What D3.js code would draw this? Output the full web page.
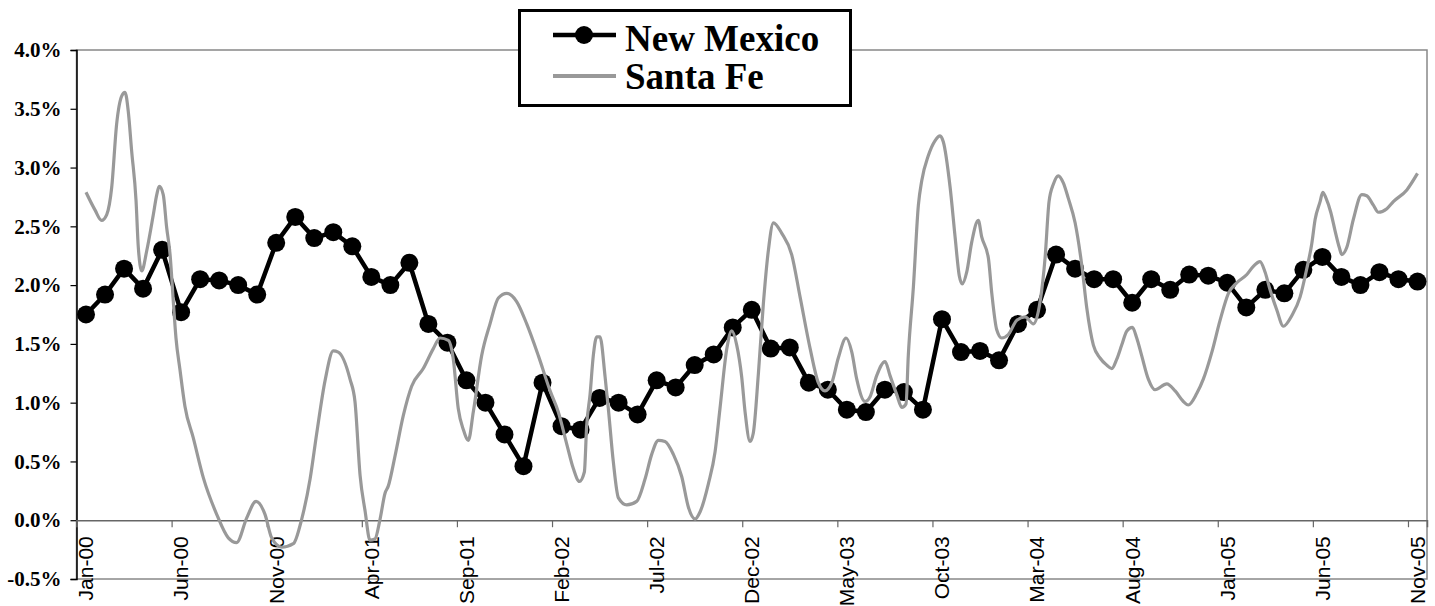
<!DOCTYPE html>
<html>
<head>
<meta charset="utf-8">
<script src="https://cdn.jsdelivr.net/npm/d3@7"></script>
<style>
  html, body { margin: 0; padding: 0; background: #fff; }
  svg { display: block; }
</style>
</head>
<body>
<svg id="chart" width="1435" height="606"></svg>
<script>
// ---------------- DATA ----------------
const months = [
  "Jan-00","Feb-00","Mar-00","Apr-00","May-00","Jun-00","Jul-00","Aug-00","Sep-00","Oct-00","Nov-00","Dec-00",
  "Jan-01","Feb-01","Mar-01","Apr-01","May-01","Jun-01","Jul-01","Aug-01","Sep-01","Oct-01","Nov-01","Dec-01",
  "Jan-02","Feb-02","Mar-02","Apr-02","May-02","Jun-02","Jul-02","Aug-02","Sep-02","Oct-02","Nov-02","Dec-02",
  "Jan-03","Feb-03","Mar-03","Apr-03","May-03","Jun-03","Jul-03","Aug-03","Sep-03","Oct-03","Nov-03","Dec-03",
  "Jan-04","Feb-04","Mar-04","Apr-04","May-04","Jun-04","Jul-04","Aug-04","Sep-04","Oct-04","Nov-04","Dec-04",
  "Jan-05","Feb-05","Mar-05","Apr-05","May-05","Jun-05","Jul-05","Aug-05","Sep-05","Oct-05","Nov-05"
];

// New Mexico, monthly values (%)
const newMexico = [
  1.75, 1.92, 2.14, 1.97, 2.30, 1.77, 2.05, 2.04, 2.00, 1.92, 2.36, 2.58,
  2.40, 2.45, 2.33, 2.07, 2.00, 2.19, 1.67, 1.51, 1.19, 1.00, 0.73, 0.46,
  1.17, 0.80, 0.77, 1.04, 1.00, 0.90, 1.19, 1.13, 1.32, 1.41, 1.64, 1.79,
  1.46, 1.47, 1.17, 1.11, 0.94, 0.92, 1.11, 1.09, 0.94, 1.71, 1.43, 1.44,
  1.36, 1.67, 1.79, 2.26, 2.14, 2.05, 2.05, 1.85, 2.05, 1.96, 2.09, 2.08,
  2.02, 1.81, 1.96, 1.93, 2.13, 2.24, 2.07, 2.00, 2.11, 2.05, 2.03
];

// Santa Fe: finer-grained series; time in months since Jan-00 (fractional)
const santaFeTime = [
  0.00,0.47,0.82,1.09,1.35,1.61,1.88,2.05,2.22,2.40,2.63,2.75,2.93,3.19,3.54,3.72,3.85,4.06,4.24,4.42,
  4.59,4.73,4.94,5.20,5.64,6.17,6.87,7.48,7.92,8.45,8.94,9.41,9.76,10.29,10.90,11.34,11.78,12.13,12.57,13.00,
  13.26,13.88,14.14,14.41,14.67,14.93,15.19,15.46,15.72,15.89,16.25,16.68,17.12,17.73,18.26,18.61,19.05,19.31,19.57,19.84,
  20.10,20.36,20.80,21.24,21.68,22.12,22.64,23.17,23.78,24.40,24.83,25.27,25.62,25.94,26.20,26.32,26.50,26.67,26.85,27.02,
  27.29,27.46,27.72,27.99,28.43,28.95,29.39,29.74,30.09,30.44,30.88,31.32,31.67,32.02,32.28,32.72,33.07,33.33,33.69,33.95,
  34.21,34.47,34.65,34.91,35.08,35.35,35.61,35.87,36.14,36.58,37.10,37.54,38.07,38.50,38.85,39.21,39.55,39.96,40.26,40.52,
  40.96,41.22,41.57,42.01,42.27,42.62,42.89,43.11,43.23,43.50,43.76,43.94,44.28,44.64,44.90,45.07,45.43,45.69,45.91,46.07,
  46.30,46.57,46.91,47.09,47.44,47.62,47.88,48.14,48.49,48.93,49.37,49.81,50.16,50.42,50.63,50.86,51.12,51.38,51.64,52.00,
  52.35,52.61,52.96,53.31,53.66,53.93,54.19,54.45,54.72,55.01,55.24,55.50,55.85,56.20,56.82,57.26,57.69,57.95,58.40,58.74,
  59.19,59.62,60.06,60.50,61.03,61.37,61.72,61.99,62.25,62.60,62.95,63.39,63.83,64.18,64.44,64.62,64.88,65.02,65.19,65.44,
  65.67,65.89,66.02,66.28,66.63,67.07,67.33,67.68,67.94,68.39,68.73,69.44,70.00
];
const santaFe = [
  2.79,2.64,2.55,2.60,2.83,3.37,3.61,3.64,3.48,3.14,2.72,2.32,2.12,2.29,2.60,2.77,2.84,2.77,2.49,2.26,
  1.86,1.55,1.28,0.97,0.70,0.36,0.05,-0.15,-0.19,0.02,0.16,0.05,-0.15,-0.23,-0.20,0.01,0.35,0.74,1.19,1.44,
  1.43,1.20,1.01,0.38,0.08,-0.17,-0.16,0.01,0.23,0.29,0.55,0.89,1.14,1.29,1.46,1.55,1.53,1.37,0.95,0.77,
  0.68,0.92,1.40,1.67,1.89,1.93,1.86,1.67,1.40,1.10,0.92,0.65,0.44,0.33,0.41,0.80,1.07,1.40,1.56,1.56,
  1.22,0.95,0.50,0.19,0.13,0.16,0.35,0.56,0.68,0.67,0.56,0.37,0.11,0.01,0.07,0.31,0.58,0.95,1.46,1.61,
  1.49,1.22,0.92,0.67,0.74,1.25,1.84,2.29,2.53,2.44,2.26,1.90,1.46,1.17,1.10,1.17,1.38,1.55,1.43,1.20,
  1.01,1.05,1.23,1.35,1.23,1.07,0.96,0.99,1.40,1.99,2.68,2.89,3.10,3.23,3.27,3.22,2.83,2.41,2.08,2.01,
  2.11,2.37,2.55,2.41,2.23,1.93,1.62,1.55,1.58,1.70,1.73,1.67,1.86,2.23,2.71,2.86,2.93,2.87,2.74,2.53,
  2.17,1.81,1.49,1.38,1.32,1.29,1.37,1.49,1.61,1.64,1.55,1.40,1.20,1.11,1.16,1.10,1.01,0.98,1.08,1.20,
  1.43,1.70,1.93,2.02,2.09,2.16,2.20,2.11,1.96,1.79,1.65,1.74,1.90,2.14,2.35,2.56,2.71,2.79,2.74,2.62,
  2.46,2.32,2.26,2.32,2.56,2.77,2.76,2.68,2.62,2.65,2.71,2.81,2.95
];

const yTickValues = [-0.5, 0.0, 0.5, 1.0, 1.5, 2.0, 2.5, 3.0, 3.5, 4.0];
const xLabelEvery = 5;
const seriesNames = ["New Mexico", "Santa Fe"];

// ---------------- LAYOUT ----------------
const plot = { left: 76.5, right: 1427, top: 50, bottom: 579 };
const svg = d3.select("#chart");

const xBand = d3.scaleBand().domain(months).range([plot.left, plot.right]).padding(0);
const bw = xBand.bandwidth();
const xLin = d3.scaleLinear().domain([-0.5, months.length - 0.5]).range([plot.left, plot.right]);
const y = d3.scaleLinear().domain([-0.5, 4.0]).range([plot.bottom, plot.top]);

// Plot area border (gray)
svg.append("rect")
  .attr("x", plot.left).attr("y", plot.top)
  .attr("width", plot.right - plot.left).attr("height", plot.bottom - plot.top)
  .attr("fill", "none").attr("stroke", "#888").attr("stroke-width", 1.5);

// Y axis
const yAxis = svg.append("g")
  .attr("transform", `translate(${plot.left},0)`)
  .call(d3.axisLeft(y).tickValues(yTickValues).tickSize(6).tickPadding(9)
    .tickFormat(v => v.toFixed(1) + "%"));
yAxis.select(".domain").attr("stroke", "#000").attr("stroke-width", 1.5);
yAxis.selectAll(".tick line").attr("stroke", "#000").attr("stroke-width", 1.2);
yAxis.selectAll(".tick text")
  .attr("font-family", "'Liberation Serif','Times New Roman',serif")
  .attr("font-weight", "bold").attr("font-size", 21).attr("fill", "#000");

// X axis tick marks at category boundaries (every 5 months), placed at y=0
const boundaryTicks = d3.range(0, months.length, xLabelEvery).map(i => i - 0.5);
const xTickAxis = svg.append("g")
  .attr("transform", `translate(0,${y(0)})`)
  .call(d3.axisBottom(xLin).tickValues(boundaryTicks).tickSize(7).tickFormat(""));
xTickAxis.select(".domain").attr("stroke", "#666").attr("stroke-width", 1.5);
xTickAxis.selectAll(".tick line").attr("stroke", "#666").attr("stroke-width", 1.2);

// X labels at category centres
const labelMonths = months.filter((m, i) => i % xLabelEvery === 0);
const xLabelAxis = svg.append("g")
  .attr("transform", `translate(0,${y(0)})`)
  .call(d3.axisBottom(xBand).tickValues(labelMonths).tickSize(0));
xLabelAxis.select(".domain").remove();
xLabelAxis.selectAll(".tick text")
  .attr("font-family", "'Liberation Sans',Arial,sans-serif")
  .attr("font-size", 21).attr("fill", "#000")
  .attr("text-anchor", "end")
  .attr("x", 0).attr("y", 0).attr("dy", "0.35em")
  .attr("transform", "translate(0,16) rotate(-90)");

// New Mexico line + markers
const nmData = newMexico.map((v, i) => ({ m: months[i], v }));
const nmLine = d3.line().x(d => xBand(d.m) + bw / 2).y(d => y(d.v));
svg.append("path").datum(nmData)
  .attr("d", nmLine).attr("fill", "none")
  .attr("stroke", "#000").attr("stroke-width", 4.5)
  .attr("stroke-linejoin", "round");
svg.append("g").selectAll("circle").data(nmData).join("circle")
  .attr("cx", d => xBand(d.m) + bw / 2).attr("cy", d => y(d.v))
  .attr("r", 9).attr("fill", "#000");

// Santa Fe line
const sfData = santaFe.map((v, i) => ({ t: santaFeTime[i], v }));
const sfLine = d3.line().x(d => xLin(d.t)).y(d => y(d.v)).curve(d3.curveMonotoneX);
svg.append("path").datum(sfData)
  .attr("d", sfLine).attr("fill", "none")
  .attr("stroke", "#999").attr("stroke-width", 3.2)
  .attr("stroke-linejoin", "round");

// Legend
const lg = svg.append("g");
lg.append("rect").attr("x", 519.5).attr("y", 10.5).attr("width", 331).attr("height", 95)
  .attr("fill", "#fff").attr("stroke", "#000").attr("stroke-width", 3);
lg.append("line").attr("x1", 553).attr("x2", 616).attr("y1", 35).attr("y2", 35)
  .attr("stroke", "#000").attr("stroke-width", 4.5);
lg.append("circle").attr("cx", 584).attr("cy", 35).attr("r", 9).attr("fill", "#000");
lg.append("line").attr("x1", 553).attr("x2", 616).attr("y1", 76).attr("y2", 76)
  .attr("stroke", "#999").attr("stroke-width", 4);
lg.selectAll("text.lbl").data(seriesNames).join("text")
  .attr("class", "lbl")
  .attr("x", 625).attr("y", (d, i) => i === 0 ? 51 : 89)
  .attr("font-family", "'Liberation Serif','Times New Roman',serif")
  .attr("font-weight", "bold").attr("font-size", 37).attr("fill", "#000")
  .text(d => d);
</script>
</body>
</html>
